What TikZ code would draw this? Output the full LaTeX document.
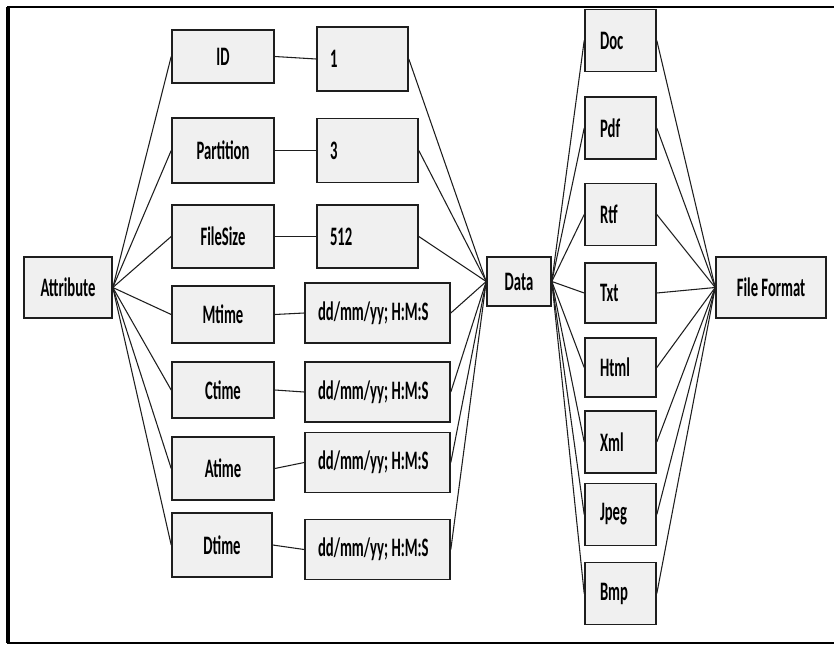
\documentclass[tikz,border=0pt]{standalone}
\usepackage{fontspec}
\usepackage{tikz}
\usepackage{xcolor}
\usetikzlibrary{positioning}
\newfontfamily\boxfont{Carlito}[FakeStretch=0.55]
\definecolor{boxgray}{HTML}{F0F0F0}
\definecolor{edgegray}{HTML}{1E1E1E}
\frenchspacing
\newcommand{\stamp}{dd/mm/yy;\kern2.5pt H:M:S}

\begin{document}
\begin{tikzpicture}[
  x=0.75pt, y=-0.75pt,
  every node/.style={font=\boxfont\bfseries\fontsize{20}{22}\selectfont, text=black},
  box/.style={draw=edgegray, line width=1.2pt, fill=boxgray, inner sep=0pt, minimum height=45pt},
  keybox/.style={box, minimum width=76.5pt},
  valbox/.style={box, text width=48.75pt, inner xsep=9.75pt, align=left, minimum height=48pt},
  datebox/.style={box, text width=89.25pt, inner xsep=9.75pt, align=left},
  fmtbox/.style={box, text width=30.75pt, inner xsep=11.25pt, align=left, minimum height=46.5pt},
  link/.style={draw=edgegray, line width=0.8pt}
]
\useasboundingbox (0,0) rectangle (834,646);
% Frame
\draw[line width=2.2pt] (8,7) rectangle (845,643);
\draw[line width=3pt] (8,7) -- (8,643);

% Attribute and its keys
\node[box, minimum width=66pt, minimum height=45.75pt] (attr) at (68,287.5) {Attribute};
\node[keybox, minimum height=40pt] (id) at (223,56.5) {ID};
\node[keybox, minimum height=48.75pt] (part) at (223,150.5) {Partition};
\node[keybox, minimum height=47pt] (size) at (223,236.5) {FileSize};
\node[keybox, minimum height=43pt] (mt) at (223,314.5) {Mtime};
\node[keybox, minimum height=42pt] (ct) at (223,390) {Ctime};
\node[keybox, minimum height=47pt] (at) at (223,468.5) {Atime};
\node[keybox, minimum width=75pt, minimum height=48pt] (dt) at (222,545) {Dtime};

% Values
\node[valbox] (v1) at (362.5,59) {1};
\node[valbox, text width=56.25pt] (v3) at (367.5,150.5) {3};
\node[valbox, text width=56.25pt, minimum height=47pt] (v512) at (367.5,236.5) {512};
\node[datebox] (vmt) at (377.5,313) {\stamp};
\node[datebox] (vct) at (377.5,392) {\stamp};
\node[datebox] (vat) at (377.5,462.5) {\stamp};
\node[datebox] (vdt) at (377.5,549.5) {\stamp};

% Data
\node[box, minimum width=48pt, minimum height=36.75pt] (data) at (519,281.5) {Data};

% Formats
\node[fmtbox] (doc) at (620.5,40.5) {Doc};
\node[fmtbox] (pdf) at (620.5,128) {Pdf};
\node[fmtbox] (rtf) at (620.5,214.5) {Rtf};
\node[fmtbox, minimum height=45pt] (txt) at (620.5,293) {Txt};
\node[fmtbox, minimum height=44pt] (html) at (620.5,367.5) {Html};
\node[fmtbox] (xml) at (620.5,442) {Xml};
\node[fmtbox] (jpeg) at (620.5,514.5) {Jpeg};
\node[fmtbox] (bmp) at (620.5,593.5) {Bmp};

\node[box, minimum width=82.5pt, minimum height=45.75pt] (ff) at (771,287.5) {File Format};

% Connectors
\foreach \k in {id,part,size,mt,ct,at,dt}
  \draw[link] (attr.east) -- (\k.west);
\draw[link] (id.east) -- (v1.west);
\draw[link] (part.east) -- (v3.west);
\draw[link] (size.east) -- (v512.west);
\draw[link] (mt.east) -- (vmt.west);
\draw[link] (ct.east) -- (vct.west);
\draw[link] (at.east) -- (vat.west);
\draw[link] (dt.east) -- (vdt.west);
\foreach \v in {v1,v3,v512,vmt,vct,vat,vdt}
  \draw[link] (\v.east) -- (data.west);
\foreach \f in {doc,pdf,rtf,txt,html,xml,jpeg,bmp} {
  \draw[link] (data.east) -- (\f.west);
  \draw[link] (\f.east) -- (ff.west);
}

\end{tikzpicture}
\end{document}
